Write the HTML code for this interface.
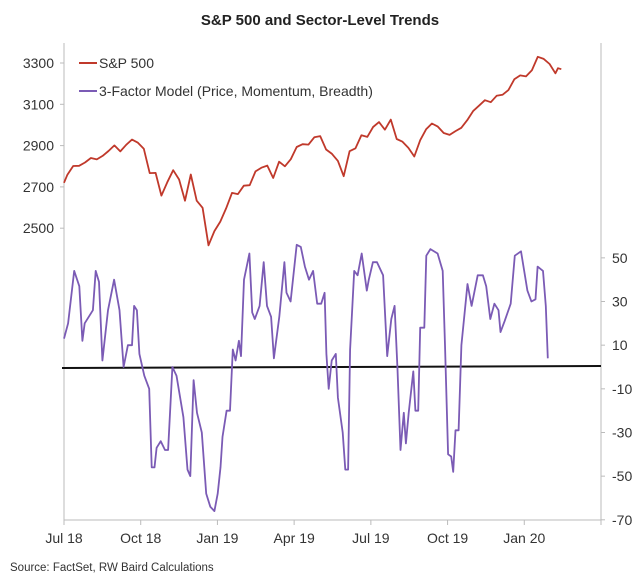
<!DOCTYPE html>
<html><head><meta charset="utf-8"><style>
body{margin:0;background:#fff;}
svg text{font-family:"Liberation Sans",sans-serif;}
</style></head><body>
<svg width="640" height="577" viewBox="0 0 640 577" xmlns="http://www.w3.org/2000/svg">
<text x="320" y="25" text-anchor="middle" font-size="15" font-weight="bold" fill="#222">S&amp;P 500 and Sector-Level Trends</text>
<g id="axes"></g>
<g id="series"></g>
<g>
<line x1="79" y1="63" x2="97" y2="63" stroke="#c0392b" stroke-width="2"/>
<text x="99" y="68" font-size="14" fill="#333">S&amp;P 500</text>
<line x1="79" y1="91" x2="97" y2="91" stroke="#7b5bb5" stroke-width="2"/>
<text x="99" y="96" font-size="14" fill="#333">3-Factor Model (Price, Momentum, Breadth)</text>
</g>
<text x="10" y="571" font-size="11.5" fill="#333">Source: FactSet, RW Baird Calculations</text>
</svg>
<script>
const xTickLabels=["Jul 18","Oct 18","Jan 19","Apr 19","Jul 19","Oct 19","Jan 20",""];
const leftTicks=[2500,2700,2900,3100,3300];
const rightTicks=[50,30,10,-10,-30,-50,-70];
const spDays=[0,4,11,18,25,32,39,46,53,60,67,74,81,88,95,102,109,116,123,130,137,144,151,158,165,172,179,186,193,200,207,214,221,228,235,242,249,256,263,270,277,284,291,298,305,312,319,326,333,340,347,354,361,368,375,382,389,396,403,410,417,424,431,438,445,452,459,466,473,480,487,494,501,508,515,522,529,536,543,550,557,564,571,578,585,588,592];
const spValues=[2720,2759,2801,2802,2818,2840,2833,2850,2874,2901,2872,2904,2929,2914,2885,2767,2768,2658,2723,2781,2736,2633,2760,2633,2599,2417,2486,2532,2596,2671,2665,2706,2708,2775,2793,2803,2743,2822,2800,2834,2893,2907,2905,2940,2946,2881,2860,2826,2752,2873,2887,2950,2942,2990,3014,2977,3026,2932,2919,2889,2847,2926,2979,3007,2992,2961,2952,2970,2986,3023,3067,3093,3120,3110,3141,3146,3169,3221,3240,3235,3265,3330,3320,3295,3250,3275,3270];
const modelMonths=[0,.16,.40,.60,.72,.81,1.13,1.24,1.37,1.50,1.72,1.96,2.17,2.33,2.50,2.66,2.74,2.85,2.95,3.14,3.33,3.43,3.54,3.62,3.78,3.95,4.07,4.24,4.40,4.67,4.83,4.94,5.07,5.20,5.39,5.56,5.72,5.88,6.01,6.12,6.20,6.36,6.49,6.60,6.71,6.84,6.92,7.04,7.25,7.36,7.46,7.65,7.81,7.94,8.10,8.21,8.42,8.62,8.70,8.86,9.10,9.26,9.42,9.58,9.74,9.90,10.06,10.19,10.26,10.35,10.47,10.63,10.71,10.90,11.00,11.11,11.19,11.35,11.48,11.64,11.84,11.92,12.08,12.24,12.48,12.64,12.80,12.93,13.04,13.16,13.29,13.37,13.48,13.66,13.74,13.85,13.93,14.09,14.17,14.33,14.61,14.81,14.90,15.02,15.14,15.22,15.31,15.43,15.54,15.78,15.94,16.18,16.38,16.51,16.67,16.83,16.99,17.07,17.23,17.47,17.63,17.87,18.12,18.28,18.44,18.52,18.73,18.84,18.92];
const modelValues=[13,20,44,37,12,20,26,44,39,3,26,40,26,0,10,10,28,26,6,-4,-10,-46,-46,-37,-34,-38,-38,0,-4,-23,-47,-50,-6,-21,-30,-58,-64,-66,-58,-46,-32,-20,-20,8,3,12,5,40,52,25,22,28,48,28,23,4,23,48,34,30,56,55,46,40,44,29,29,34,6,-10,3,6,-14,-30,-47,-47,8,44,42,52,35,40,48,48,42,5,22,28,-1,-38,-21,-35,-21,-2,-20,-20,18,18,51,54,52,44,10,-40,-41,-48,-29,-29,10,38,28,42,42,37,22,29,26,16,21,29,51,53,35,30,31,46,44,28,4];

const NS="http://www.w3.org/2000/svg";
const X0=64,X1=601,YB=520,YT=43;
const xMonth=m=>X0+(m/21)*(X1-X0);
const yLeft=v=>63+(3300-v)/200*41.3;
const yRight=v=>367-v*2.183;
function mk(tag,attrs,parent){const e=document.createElementNS(NS,tag);for(const k in attrs)e.setAttribute(k,attrs[k]);parent.appendChild(e);return e;}
const axes=document.getElementById('axes'),ser=document.getElementById('series');
let e;
e=mk('line',{x1:X0,y1:YT,x2:X0,y2:YB,stroke:'#bbb'},axes);


e=mk('line',{x1:X1,y1:YT,x2:X1,y2:YB,stroke:'#bbb'},axes);


e=mk('line',{x1:X0,y1:YB,x2:X1,y2:YB,stroke:'#bbb'},axes);


leftTicks.forEach(v=>{const y=yLeft(v);
 mk('line',{x1:X0-4,y1:y,x2:X0,y2:y,stroke:'#bbb'},axes);
 e=mk('text',{x:X0-10,y:y+5,'text-anchor':'end','font-size':14,fill:'#333'},axes);e.textContent=v;
 
 });
rightTicks.forEach(v=>{const y=yRight(v);
 mk('line',{x1:X1,y1:y,x2:X1+4,y2:y,stroke:'#bbb'},axes);
 e=mk('text',{x:X1+11,y:y+5,'font-size':14,fill:'#333'},axes);e.textContent=v;
 
 });
xTickLabels.forEach((t,i)=>{const x=xMonth(i*3);
 mk('line',{x1:x,y1:YB,x2:x,y2:YB+5,stroke:'#bbb'},axes);
 e=mk('text',{x:x,y:YB+23,'text-anchor':'middle','font-size':14,fill:'#333'},axes);e.textContent=t;
 
 });
e=mk('line',{x1:X0-2,y1:yRight(0)+1,x2:X1,y2:yRight(0)-1,stroke:'#111','stroke-width':2},ser);


const spPts=spDays.map((d,i)=>xMonth(d/30.44).toFixed(1)+','+yLeft(spValues[i]).toFixed(1)).join(' ');
e=mk('polyline',{points:spPts,fill:'none',stroke:'#c0392b','stroke-width':1.8,'stroke-linejoin':'round'},ser);


const mPts=modelMonths.map((m,i)=>xMonth(m).toFixed(1)+','+yRight(modelValues[i]).toFixed(1)).join(' ');
e=mk('polyline',{points:mPts,fill:'none',stroke:'#7b5bb5','stroke-width':1.8,'stroke-linejoin':'round'},ser);


</script>
</body></html>
